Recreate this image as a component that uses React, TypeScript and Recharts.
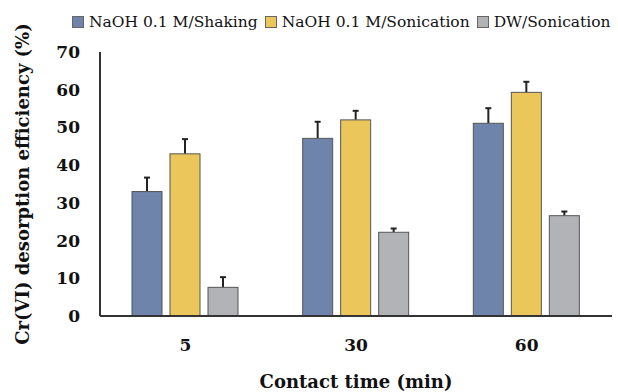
import React from "react"
import { Bar, BarChart, Label, XAxis, YAxis } from "recharts"

const times = ["5", "30", "60"]
const shaking = [33.0, 47.1, 51.1]
const shakingErr = [3.7, 4.4, 4.0]
const sonication = [43.0, 52.0, 59.3]
const sonicationErr = [3.9, 2.4, 2.8]
const water = [7.6, 22.2, 26.6]
const waterErr = [2.7, 1.0, 1.1]
const yTicks = [0, 10, 20, 30, 40, 50, 60, 70]

const series = [
  { key: "shaking", name: "NaOH 0.1 M/Shaking", color: "#6f84ab" },
  { key: "sonication", name: "NaOH 0.1 M/Sonication", color: "#ebc65a" },
  { key: "water", name: "DW/Sonication", color: "#b2b3b6" },
]

const data = times.map((t, i) => ({
  time: t,
  shaking: shaking[i],
  shakingErr: shakingErr[i],
  sonication: sonication[i],
  sonicationErr: sonicationErr[i],
  water: water[i],
  waterErr: waterErr[i],
}))

const serif = "'DejaVu Serif', serif"
const axisColor = "#333333"

// bar with an upward-only error whisker, scaled from the bar's own px/unit
function barWithError(errKey: string, valueKey: string) {
  return (props: any) => {
    const { x, y, width, height, fill, payload } = props
    const value = payload[valueKey]
    const err = payload[errKey]
    const pxPerUnit = value ? height / value : 0
    const cx = x + width / 2
    const top = y - err * pxPerUnit
    return (
      <g>
        <line x1={cx} x2={cx} y1={y} y2={top} stroke="#222" strokeWidth={2} />
        <line x1={cx - 3} x2={cx + 3} y1={top} y2={top} stroke="#222" strokeWidth={2} />
        <rect x={x} y={y} width={width} height={height} fill={fill} stroke="#555" strokeWidth={1} />
      </g>
    )
  }
}

export default function App() {
  return (
    <div style={{ position: "fixed", left: 0, top: 0, width: 618, height: 392, background: "#fff" }}>
      <div
        style={{
          position: "absolute",
          left: 72,
          top: 13,
          display: "flex",
          gap: 7,
          fontFamily: serif,
          fontSize: 15.5,
          color: "#111",
          whiteSpace: "nowrap",
          zIndex: 2,
        }}
      >
        {series.map((s) => (
          <span key={s.key} style={{ display: "flex", alignItems: "center" }}>
            <span
              style={{
                display: "inline-block",
                width: 10,
                height: 10,
                background: s.color,
                border: "1px solid #666",
                marginRight: 5,
              }}
            />
            {s.name}
          </span>
        ))}
      </div>
      <BarChart
        width={618}
        height={392}
        data={data}
        margin={{ top: 52, right: 6, bottom: 0, left: 0 }}
        barSize={30}
        barGap={8}
      >
        <XAxis
          dataKey="time"
          height={76}
          tickLine={false}
          tickSize={0}
          tickMargin={23}
          axisLine={{ stroke: axisColor, strokeWidth: 2 }}
          tick={{ fill: "#111", fontFamily: serif, fontWeight: "bold", fontSize: 17 }}
        >
          <Label
            value="Contact time (min)"
            position="insideBottom"
            offset={4}
            style={{ fill: "#111", fontFamily: serif, fontWeight: "bold", fontSize: 18 }}
          />
        </XAxis>
        <XAxis xAxisId="top" dataKey="time" orientation="top" height={0} tick={false} tickLine={false} axisLine={{ stroke: axisColor, strokeWidth: 2 }} />
        <YAxis
          domain={[0, 70]}
          ticks={yTicks}
          width={100}
          tickLine={false}
          tickSize={0}
          tickMargin={20}
          axisLine={{ stroke: axisColor, strokeWidth: 2 }}
          tick={{ fill: "#111", fontFamily: serif, fontWeight: "bold", fontSize: 17 }}
        >
          <Label
            value="Cr(VI) desorption efficiency (%)"
            angle={-90}
            position="insideLeft"
            offset={23}
            textAnchor="middle"
            style={{ fill: "#111", fontFamily: serif, fontWeight: "bold", fontSize: 18, textAnchor: "middle" }}
          />
        </YAxis>
        <YAxis yAxisId="right" orientation="right" width={0} domain={[0, 70]} tick={false} tickLine={false} axisLine={{ stroke: axisColor, strokeWidth: 2 }} />
        {series.map((s) => (
          <Bar
            key={s.key}
            dataKey={s.key}
            name={s.name}
            fill={s.color}
            isAnimationActive={false}
            shape={barWithError(s.key + "Err", s.key)}
          />
        ))}
      </BarChart>
    </div>
  )
}
